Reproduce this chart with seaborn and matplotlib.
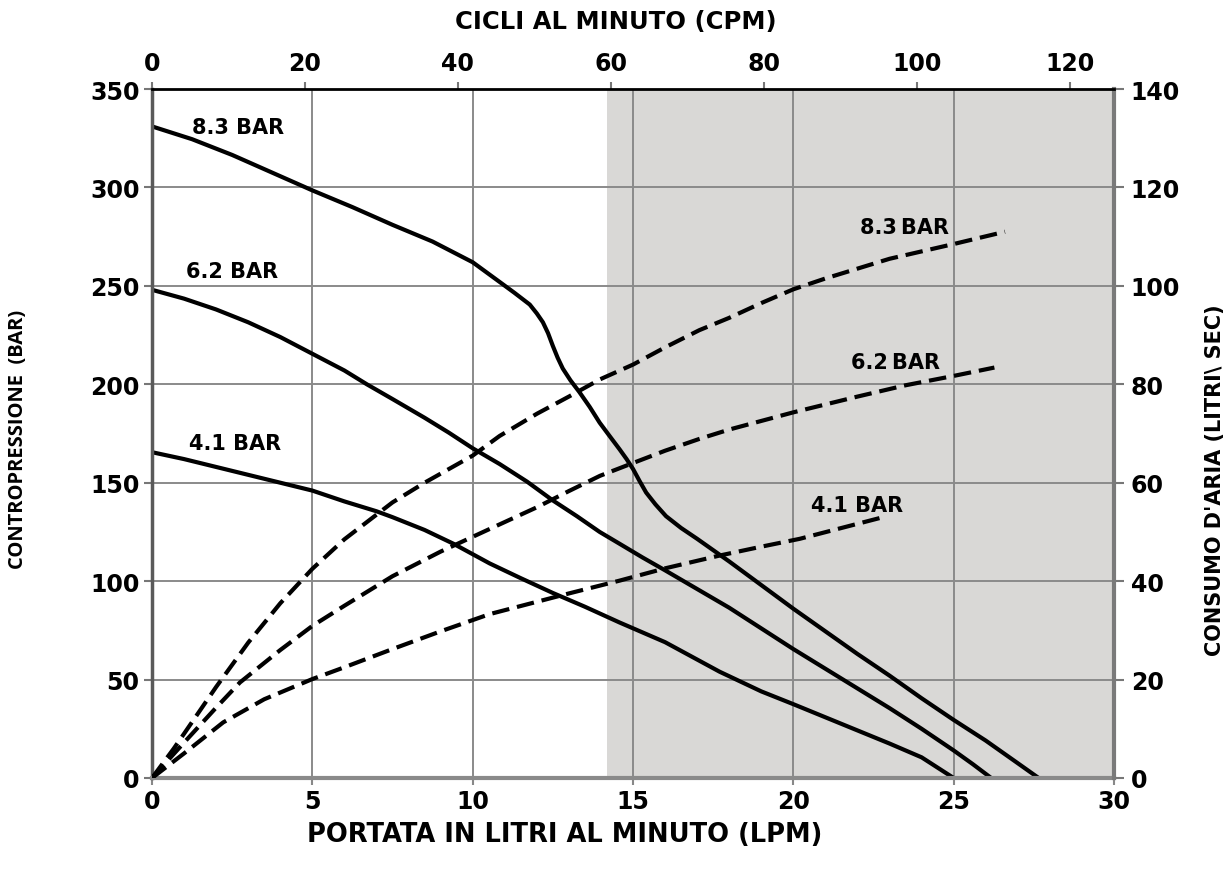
import numpy as np
import pandas as pd
import matplotlib
matplotlib.use("Agg")
import matplotlib.pyplot as plt
import seaborn as sns

# ---------------- data ----------------
# back-pressure curves (LPM -> bar)
lpm_p83 = [0, 1.25, 2.5, 3.75, 5, 6.25, 7.5, 8.75, 10, 10.84, 11.3, 11.78, 12.0, 12.19, 12.35, 12.5,
           12.65, 12.81, 13.05, 13.33, 13.65, 13.96, 14.28, 14.58, 14.8, 15.0, 15.2, 15.41, 15.7,
           16.03, 16.5, 17.0, 18, 19, 20, 21, 22, 23, 24, 25, 26, 27, 27.65]
bar_p83 = [331, 324.5, 316.5, 307.5, 298.5, 290, 281, 272.5, 262, 252, 246.5, 240.5, 236, 231.5, 226,
           219.5, 213.5, 208, 202, 196, 188.5, 180.5, 173.5, 167, 162, 157, 151, 145, 139, 133, 127,
           121.5, 110, 98, 86, 74.5, 63, 52, 40.5, 29.5, 19, 7.5, 0]

lpm_p62 = [0, 1, 2, 3, 4, 5, 6, 6.7, 7.5, 8.5, 9.25, 10, 10.84, 11.7, 12.5, 13.25, 13.96, 14.58, 15.3,
           16, 17, 18, 19, 20, 21, 22, 23, 24, 25, 25.6, 26.17]
bar_p62 = [248, 243.5, 238, 231.5, 224, 215.5, 207, 200, 192.5, 183, 175.5, 167.5, 159.5, 150.5, 141,
           133, 125, 119, 112, 105.5, 96, 86.5, 76, 65.5, 55.5, 45.5, 35.5, 25, 14, 7, 0]

lpm_p41 = [0, 1, 2, 3, 4, 5, 6, 7, 7.5, 8.5, 9.4, 10.53, 11.5, 12.5, 13.5, 14.58, 16, 17.7, 19, 20,
           21.5, 23, 24, 25]
bar_p41 = [165.5, 162, 158, 154, 150, 146, 140.5, 135.5, 132.5, 126, 119, 109, 101.5, 94, 87, 79, 69,
           54, 44, 37.5, 27.5, 17.5, 10.5, 0]

# air consumption curves (LPM -> litri/sec)
lpm_a83 = [0, 0.67, 1, 2, 3, 4, 5, 6, 7, 7.5, 8.5, 10, 10.84, 12, 13, 13.97, 15, 16, 17.07, 18, 19,
           20, 21, 22, 23, 24, 25, 26.6]
air_a83 = [0, 5.9, 9, 18.5, 27.5, 35.5, 42.5, 48.5, 53.5, 56, 60, 65.5, 69.5, 74, 77.5, 81, 84, 87.5,
           91, 93.5, 96.5, 99.3, 101.5, 103.5, 105.5, 107, 108.5, 111]

lpm_a62 = [0, 1, 2, 2.74, 4, 5, 6, 7.5, 9, 10.53, 12, 13, 13.97, 15, 16, 17.07, 18, 20, 22, 23.5, 25,
           26.27]
air_a62 = [0, 7.2, 14.3, 19.4, 26, 30.9, 35, 41, 46, 50.6, 55, 58.3, 61.4, 64, 66.5, 68.9, 70.8, 74.3,
           77.5, 79.8, 81.7, 83.4]

lpm_a41 = [0, 1, 2.22, 3.5, 5, 6, 7.5, 9, 10.53, 12, 13, 14.58, 16, 17.7, 19, 20.2, 21.5, 22.8]
air_a41 = [0, 5, 11.3, 16, 20.1, 22.5, 26.2, 29.8, 33.3, 35.8, 37.5, 40.1, 42.6, 45.2, 47, 48.6, 50.8, 53]

x_ticks = [0, 5, 10, 15, 20, 25, 30]
y_ticks = [0, 50, 100, 150, 200, 250, 300, 350]
y2_ticks = [0, 20, 40, 60, 80, 100, 120, 140]
cpm_ticks = [0, 20, 40, 60, 80, 100, 120]
cpm_max = 125.8
shade_start = 14.2

pressure_labels = ["8.3 BAR", "6.2 BAR", "4.1 BAR"]
air_labels = ["8.3\u2009BAR", "6.2\u2009BAR", "4.1 BAR"]

# ---------------- style ----------------
sns.set_theme(style="white")
plt.rcParams['font.family'] = ['DejaVu Sans']

fig = plt.figure(figsize=(12.31, 8.70), dpi=100)
ax = fig.add_axes([152/1231, 1 - 779/870, (1114-152)/1231, (779-90)/870])
ax2 = ax.twinx()
ax3 = ax.twiny()

grid_c = '#8a8a8a'
ax.axvspan(shade_start, 30, color='#d9d8d6', zorder=0, lw=0)
ax.set_axisbelow(True)
ax.grid(True, color=grid_c, lw=1.4)

lw = 3.0
dash = (0, (4.2, 1.9))

sol = pd.concat([
    pd.DataFrame({'x': lpm_p83, 'y': bar_p83, 's': '8.3'}),
    pd.DataFrame({'x': lpm_p62, 'y': bar_p62, 's': '6.2'}),
    pd.DataFrame({'x': lpm_p41, 'y': bar_p41, 's': '4.1'}),
])
air = pd.concat([
    pd.DataFrame({'x': lpm_a83, 'y': air_a83, 's': '8.3'}),
    pd.DataFrame({'x': lpm_a62, 'y': air_a62, 's': '6.2'}),
    pd.DataFrame({'x': lpm_a41, 'y': air_a41, 's': '4.1'}),
])
pal = {'8.3': 'black', '6.2': 'black', '4.1': 'black'}
sns.lineplot(data=sol, x='x', y='y', hue='s', palette=pal, estimator=None, sort=False,
             ax=ax, lw=lw, legend=False, solid_capstyle='butt')
sns.lineplot(data=air, x='x', y='y', hue='s', palette=pal, estimator=None, sort=False,
             ax=ax2, lw=lw, legend=False, linestyle=dash, dash_capstyle='butt')

ax.set_xlim(0, 30)
ax.set_ylim(0, 350)
ax2.set_ylim(0, 140)
ax3.set_xlim(0, cpm_max)
ax.set_xticks(x_ticks)
ax.set_yticks(y_ticks)
ax2.set_yticks(y2_ticks)
ax3.set_xticks(cpm_ticks)
ax.set_xlabel('')
ax.set_ylabel('')
ax2.set_ylabel('')

for a in (ax, ax2, ax3):
    for lab in a.get_xticklabels() + a.get_yticklabels():
        lab.set_fontfamily('DejaVu Sans')
        lab.set_fontweight('bold')
        lab.set_fontsize(17)
        lab.set_color('black')

ax.tick_params(axis='y', direction='out', length=6, width=1.5, color='#777777', pad=3, left=True)
ax.tick_params(axis='x', direction='out', length=5, width=1.5, color='#888888', pad=3, bottom=True)
ax2.tick_params(axis='y', direction='out', length=7, width=1.5, color='#777777', pad=5, right=True)
ax3.tick_params(axis='x', direction='out', length=5, width=1.5, color='#777777', pad=5, top=True)

for a in (ax, ax2, ax3):
    for s in a.spines.values():
        s.set_visible(False)
ax.spines['left'].set_visible(True)
ax.spines['left'].set_color('#5a5a5a')
ax.spines['left'].set_linewidth(2.5)
ax.spines['bottom'].set_visible(True)
ax.spines['bottom'].set_color('#8a8a8a')
ax.spines['bottom'].set_linewidth(3)
ax2.spines['right'].set_visible(True)
ax2.spines['right'].set_color('#7a7a7a')
ax2.spines['right'].set_linewidth(3)
ax3.spines['top'].set_visible(True)
ax3.spines['top'].set_color('black')
ax3.spines['top'].set_linewidth(2)

# curve labels
lab_font = dict(fontfamily=['DejaVu Sans'], fontweight='bold', fontsize=15,
                ha='center', va='center', color='black')
ax.text(2.68, 330.6, pressure_labels[0], **lab_font)
ax.text(2.5, 257.5, pressure_labels[1], **lab_font)
ax.text(2.59, 170.0, pressure_labels[2], **lab_font)
ax2.text(23.48, 111.9, air_labels[0], **lab_font)
ax2.text(23.2, 84.5, air_labels[1], **lab_font)
ax2.text(22.0, 55.5, air_labels[2], **lab_font)

# axis titles
title_font = dict(fontweight='bold', color='black')
fig.text(565/1231, 1 - 835/870, 'PORTATA IN LITRI AL MINUTO (LPM)', ha='center', va='center',
         fontsize=18.5, fontfamily=['DejaVu Sans'], **title_font)
fig.text(616/1231, 1 - 22/870, 'CICLI AL MINUTO (CPM)', ha='center', va='center',
         fontsize=17.5, fontfamily=['DejaVu Sans'], **title_font)
fig.text(18/1231, 1 - 439/870, 'CONTROPRESSIONE  (BAR)', ha='center', va='center',
         rotation=90, fontsize=14.5, fontfamily=['Open Sans', 'DejaVu Sans'], **title_font)
fig.text(1215/1231, 1 - 480/870, "CONSUMO D'ARIA (LITRI\\ SEC)", ha='center', va='center',
         rotation=90, fontsize=15, fontfamily=['DejaVu Sans'], **title_font)

fig.savefig('out.png', dpi=100, facecolor='white')
